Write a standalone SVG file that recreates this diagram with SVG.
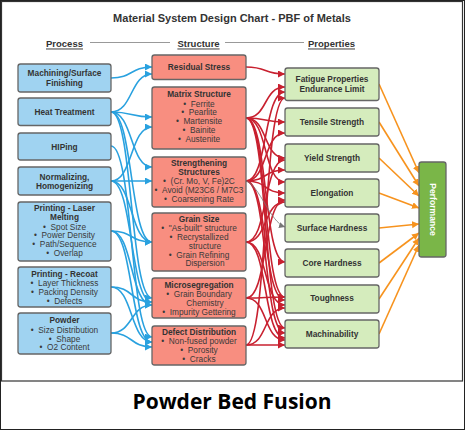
<svg xmlns="http://www.w3.org/2000/svg" width="465" height="430" viewBox="0 0 465 430">
<defs>
<style>
text{font-family:"Liberation Sans",Arial,sans-serif;fill:#333;text-anchor:middle;dominant-baseline:central}
.t{font-weight:bold;font-size:8.3px}
.b{font-size:8.3px;fill:#3a3a3a}
.h{font-weight:bold;font-size:9.5px;text-decoration:underline}
.proc rect{fill:#a0d3f1;stroke:#666;stroke-width:1.3}
.str rect{fill:#f88e80;stroke:#666;stroke-width:1.3}
.prop rect{fill:#d5ecbd;stroke:#666;stroke-width:1.3}
.blue path{fill:none;stroke:#29a1df;stroke-width:1.6;marker-end:url(#ab)}
.red path{fill:none;stroke:#c8202f;stroke-width:1.6;marker-end:url(#ar)}
.orange path{fill:none;stroke:#f7931e;stroke-width:1.6;marker-end:url(#ao)}
</style>
<marker id="ab" markerUnits="userSpaceOnUse" markerWidth="8" markerHeight="8" refX="7" refY="3.5" orient="auto"><path d="M0,0 L7,3.5 L0,7 z" fill="#29a1df"/></marker>
<marker id="ar" markerUnits="userSpaceOnUse" markerWidth="8" markerHeight="8" refX="7" refY="3.5" orient="auto"><path d="M0,0 L7,3.5 L0,7 z" fill="#c8202f"/></marker>
<marker id="ao" markerUnits="userSpaceOnUse" markerWidth="8" markerHeight="8" refX="7" refY="3.5" orient="auto"><path d="M0,0 L7,3.5 L0,7 z" fill="#f7931e"/></marker>
<marker id="ag" markerUnits="userSpaceOnUse" markerWidth="8" markerHeight="8" refX="6" refY="3" orient="auto"><path d="M0,0 L6,3 L0,6 z" fill="#777"/></marker>
</defs>
<rect x="0" y="0" width="465" height="430" fill="#fff"/>
<rect x="0.5" y="0.5" width="464" height="429" fill="none" stroke="#222" stroke-width="1"/>
<rect x="1.5" y="1.5" width="461" height="379.5" fill="none" stroke="#333" stroke-width="1.2"/>

<text x="232" y="18" style="font-weight:bold;font-size:11px">Material System Design Chart - PBF of Metals</text>
<g id="headers">
<text class="h" x="64.5" y="43">Process</text>
<text class="h" x="198.5" y="43">Structure</text>
<text class="h" x="331.5" y="43">Properties</text>
<line x1="90" y1="42.5" x2="170" y2="42.5" stroke="#999" stroke-width="1"/>
<line x1="225" y1="42.5" x2="304" y2="42.5" stroke="#999" stroke-width="1"/>
</g>

<g id="connectors">
<g class="blue">
<path d="M111,78 C133,78 130,67 152,67"/>
<path d="M111,112 C133,112 130,74 152,74"/>
<path d="M111,112 C133,112 130,117 152,117"/>
<path d="M111,112 C133,112 130,167 152,167"/>
<path d="M111,112 C133,112 130,242 152,242"/>
<path d="M111,112 C133,112 130,298 152,298"/>
<path d="M111,146 C133,146 130,337 152,337"/>
<path d="M111,181 C133,181 130,127 152,127"/>
<path d="M111,181 C133,181 130,181 152,181"/>
<path d="M111,181 C133,181 130,242 152,242"/>
<path d="M111,181 C133,181 130,302 152,302"/>
<path d="M111,231 C133,231 130,242 152,242"/>
<path d="M111,231 C133,231 130,305 152,305"/>
<path d="M111,231 C133,231 130,342 152,342"/>
<path d="M111,287 C133,287 130,302 152,302"/>
<path d="M111,287 C133,287 130,342 152,342"/>
<path d="M111,333 C133,333 130,305 152,305"/>
<path d="M111,333 C133,333 130,347 152,347"/>
</g>
<g class="red">
<path d="M246,67 C268,67 263,74 285,74"/>
<path d="M246,118 C268,118 263,87 285,87"/>
<path d="M246,118 C268,118 263,122 285,122"/>
<path d="M246,118 C268,118 263,158 285,158"/>
<path d="M246,118 C268,118 263,182 285,182"/>
<path d="M246,118 C268,118 263,262 285,262"/>
<path d="M246,118 C268,118 263,297 285,297"/>
<path d="M246,118 C268,118 263,328 285,328"/>
<path d="M246,181 C268,181 263,92 285,92"/>
<path d="M246,181 C268,181 263,133 285,133"/>
<path d="M246,181 C268,181 263,170 285,170"/>
<path d="M246,181 C268,181 263,193 285,193"/>
<path d="M246,181 C268,181 263,300 285,300"/>
<path d="M246,181 C268,181 263,333 285,333"/>
<path d="M246,242 C268,242 263,160 285,160"/>
<path d="M246,242 C268,242 263,202 285,202"/>
<path d="M246,242 C268,242 263,305 285,305"/>
<path d="M246,242 C268,242 263,338 285,338"/>
<path d="M246,298 C268,298 263,200 285,200"/>
<path d="M246,298 C268,298 263,297 285,297"/>
<path d="M246,298 C268,298 263,340 285,340"/>
<path d="M246,345 C268,345 263,98 285,98"/>
<path d="M246,345 C268,345 263,308 285,308"/>
<path d="M246,345 C268,345 263,345 285,345"/>
</g>
<path d="M246,181 C260,186 270,222 285,227" fill="none" stroke="#777" stroke-width="0.8" marker-end="url(#ag)"/>
<g class="orange">
<path d="M379,84 L419,173"/>
<path d="M379,122 L419,186"/>
<path d="M379,158 L419,196"/>
<path d="M379,193 L419,208"/>
<path d="M379,228 L419,224"/>
<path d="M379,263 L419,233"/>
<path d="M379,299 L419,238"/>
<path d="M379,334 L419,245"/>
</g>
</g>

<g id="p-machining" class="proc"><rect x="18" y="64" width="93" height="28" rx="2.5"/><text class="t" x="64.5" y="73">Machining/Surface</text><text class="t" x="64.5" y="83">Finishing</text></g>
<g id="p-heat" class="proc"><rect x="18" y="98" width="93" height="27.5" rx="2.5"/><text class="t" x="64.5" y="112">Heat Treatment</text></g>
<g id="p-hip" class="proc"><rect x="18" y="133" width="93" height="27" rx="2.5"/><text class="t" x="64.5" y="146.5">HIPing</text></g>
<g id="p-norm" class="proc"><rect x="18" y="167" width="93" height="28" rx="2.5"/><text class="t" x="64.5" y="176.5">Normalizing,</text><text class="t" x="64.5" y="186">Homogenizing</text></g>
<g id="p-laser" class="proc"><rect x="18" y="202" width="93" height="59" rx="2.5"/><text class="t" x="64.5" y="207.5">Printing - Laser</text><text class="t" x="64.5" y="216.7">Melting</text>
<text class="b" x="64.5" y="226.7">•&#160;&#160;Spot Size</text><text class="b" x="64.5" y="235.3">•&#160;&#160;Power Density</text><text class="b" x="64.5" y="244.3">•&#160;&#160;Path/Sequence</text><text class="b" x="64.5" y="253">•&#160;&#160;Overlap</text></g>
<g id="p-recoat" class="proc"><rect x="18" y="267" width="93" height="40" rx="2.5"/><text class="t" x="64.5" y="273.5">Printing - Recoat</text>
<text class="b" x="64.5" y="283">•&#160;&#160;Layer Thickness</text><text class="b" x="64.5" y="292">•&#160;&#160;Packing Density</text><text class="b" x="64.5" y="300.7">•&#160;&#160;Defects</text></g>
<g id="p-powder" class="proc"><rect x="18" y="313" width="93" height="41" rx="2.5"/><text class="t" x="64.5" y="320">Powder</text>
<text class="b" x="64.5" y="329.7">•&#160;&#160;Size Distribution</text><text class="b" x="64.5" y="338.7">•&#160;&#160;Shape</text><text class="b" x="64.5" y="347.3">•&#160;&#160;O2 Content</text></g>

<g id="s-residual" class="str"><rect x="152" y="55" width="94" height="24.5" rx="2.5"/><text class="t" x="199" y="66.7">Residual Stress</text></g>
<g id="s-matrix" class="str"><rect x="152" y="87" width="94" height="62" rx="2.5"/><text class="t" x="199" y="94.3">Matrix Structure</text>
<text class="b" x="199" y="103.7">•&#160;&#160;Ferrite</text><text class="b" x="199" y="112.3">•&#160;&#160;Pearlite</text><text class="b" x="199" y="121.3">•&#160;&#160;Martensite</text><text class="b" x="199" y="130">•&#160;&#160;Bainite</text><text class="b" x="199" y="139">•&#160;&#160;Austenite</text></g>
<g id="s-strength" class="str"><rect x="152" y="157" width="94" height="50" rx="2.5"/><text class="t" x="199" y="163.3">Strengthening</text><text class="t" x="199" y="172.3">Structures</text>
<text class="b" x="199" y="181.3">•&#160;&#160;(Cr. Mo, V, Fe)2C</text><text class="b" x="199" y="190">•&#160;&#160;Avoid (M23C6 / M7C3</text><text class="b" x="199" y="199.3">•&#160;&#160;Coarsening Rate</text></g>
<g id="s-grain" class="str"><rect x="152" y="213" width="94" height="58" rx="2.5"/><text class="t" x="199" y="218.5">Grain Size</text>
<text class="b" x="199" y="228">•&#160;&#160;"As-built" structure</text><text class="b" x="199" y="237">•&#160;&#160;Recrystallized</text><text class="b" x="205" y="245.7">structure</text><text class="b" x="199" y="254.7">•&#160;&#160;Grain Refining</text><text class="b" x="205" y="263.3">Dispersion</text></g>
<g id="s-micro" class="str"><rect x="152" y="278" width="94" height="40" rx="2.5"/><text class="t" x="199" y="285">Microsegregation</text>
<text class="b" x="199" y="294">•&#160;&#160;Grain Boundary</text><text class="b" x="205" y="303">Chemistry</text><text class="b" x="199" y="311.7">•&#160;&#160;Impurity Gettering</text></g>
<g id="s-defect" class="str"><rect x="152" y="326" width="94" height="39" rx="2.5"/><text class="t" x="199" y="331.7">Defect Distribution</text>
<text class="b" x="199" y="341">•&#160;&#160;Non-fused powder</text><text class="b" x="199" y="350">•&#160;&#160;Porosity</text><text class="b" x="199" y="358.7">•&#160;&#160;Cracks</text></g>

<g id="r-fatigue" class="prop"><rect x="285" y="68" width="94" height="32.5" rx="2.5"/><text class="t" x="332" y="79">Fatigue Properties</text><text class="t" x="332" y="88.5">Endurance Limit</text></g>
<g id="r-tensile" class="prop"><rect x="285" y="108" width="94" height="28" rx="2.5"/><text class="t" x="332" y="122">Tensile Strength</text></g>
<g id="r-yield" class="prop"><rect x="285" y="144" width="94" height="28" rx="2.5"/><text class="t" x="332" y="157.5">Yield Strength</text></g>
<g id="r-elong" class="prop"><rect x="285" y="179" width="94" height="28" rx="2.5"/><text class="t" x="332" y="192.5">Elongation</text></g>
<g id="r-surface" class="prop"><rect x="285" y="214" width="94" height="28" rx="2.5"/><text class="t" x="332" y="227.5">Surface Hardness</text></g>
<g id="r-core" class="prop"><rect x="285" y="249" width="94" height="28" rx="2.5"/><text class="t" x="332" y="262.7">Core Hardness</text></g>
<g id="r-tough" class="prop"><rect x="285" y="285" width="94" height="28" rx="2.5"/><text class="t" x="332" y="298">Toughness</text></g>
<g id="r-mach" class="prop"><rect x="285" y="320" width="94" height="28" rx="2.5"/><text class="t" x="332" y="333.5">Machinability</text></g>

<g id="performance"><rect x="419" y="162" width="27" height="95" rx="2.5" fill="#7ab648" stroke="#666" stroke-width="1.3"/><text x="432.5" y="209.5" transform="rotate(90 432.5 209.5)" style="font-weight:bold;font-size:8.6px;fill:#fff">Performance</text></g>

<text x="232" y="401" style="font-family:'Open Sans','Liberation Sans',sans-serif;font-weight:bold;font-size:21px;fill:#000">Powder Bed Fusion</text>
</svg>
